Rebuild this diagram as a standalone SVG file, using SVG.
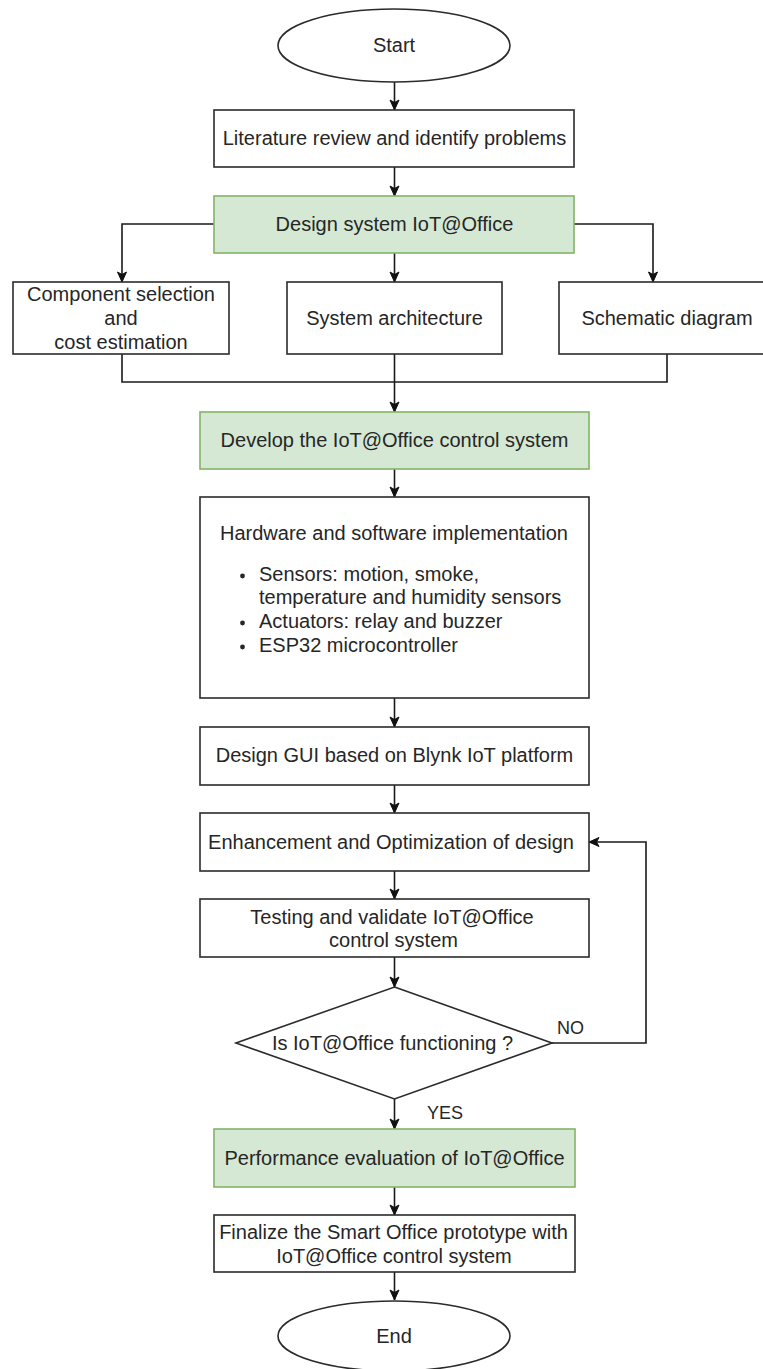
<svg xmlns="http://www.w3.org/2000/svg" width="763" height="1369" viewBox="0 0 763 1369">
  <defs>
    <marker id="arr" markerUnits="userSpaceOnUse" markerWidth="12" markerHeight="12" viewBox="0 0 12 12" refX="11" refY="6" orient="auto">
      <path d="M1,1.5 L11,6 L1,10.5 L3.5,6 Z" fill="#111" stroke="#111" stroke-width="1" stroke-linejoin="miter"/>
    </marker>
  </defs>
  <style>
    .box { fill: #ffffff; stroke: #2b2b2b; stroke-width: 1.6; }
    .green { fill: #d5e8d4; stroke: #82b366; stroke-width: 1.6; }
    .t { font-family: "Liberation Sans", Arial, sans-serif; font-size: 20px; fill: #262626; text-anchor: middle; }
    .tl { font-family: "Liberation Sans", Arial, sans-serif; font-size: 20px; fill: #262626; text-anchor: start; }
    .lab { font-family: "Liberation Sans", Arial, sans-serif; font-size: 18px; fill: #262626; text-anchor: start; }
    .c { fill: none; stroke: #1a1a1a; stroke-width: 1.6; }
  </style>
  <rect width="763" height="1369" fill="#ffffff"/>

  <g id="connectors">
    <path class="c" d="M394.5,82 V110" marker-end="url(#arr)"/>
    <path class="c" d="M394.5,167 V196" marker-end="url(#arr)"/>
    <path class="c" d="M214,224 H122 V282" marker-end="url(#arr)"/>
    <path class="c" d="M394.5,253 V282" marker-end="url(#arr)"/>
    <path class="c" d="M574,224 H653 V282" marker-end="url(#arr)"/>
    <path class="c" d="M122,354 V382 H667 V354"/>
    <path class="c" d="M394.5,354 V412" marker-end="url(#arr)"/>
    <path class="c" d="M394.5,469 V497" marker-end="url(#arr)"/>
    <path class="c" d="M394.5,698 V727" marker-end="url(#arr)"/>
    <path class="c" d="M394.5,785 V813" marker-end="url(#arr)"/>
    <path class="c" d="M394.5,871 V899" marker-end="url(#arr)"/>
    <path class="c" d="M394.5,957 V987" marker-end="url(#arr)"/>
    <path class="c" d="M552,1043 H646 V842 H589" marker-end="url(#arr)"/>
    <path class="c" d="M394.5,1099 V1129" marker-end="url(#arr)"/>
    <path class="c" d="M394.5,1187 V1215" marker-end="url(#arr)"/>
    <path class="c" d="M394.5,1272 V1300" marker-end="url(#arr)"/>
    <text class="lab" x="557" y="1034">NO</text>
    <text class="lab" x="427" y="1119">YES</text>
  </g>

  <g id="start">
    <ellipse class="box" cx="394" cy="45.5" rx="116" ry="36.5"/>
    <text class="t" x="394" y="52">Start</text>
  </g>

  <g id="literature">
    <rect class="box" x="214" y="110" width="360" height="57"/>
    <text class="t" x="394.5" y="145">Literature review and identify problems</text>
  </g>

  <g id="design-system">
    <rect class="green" x="214" y="196" width="360" height="57"/>
    <text class="t" x="394.5" y="231">Design system IoT@Office</text>
  </g>

  <g id="component-selection">
    <rect class="box" x="13" y="282" width="216" height="72"/>
    <text class="t" x="121" y="301">Component selection</text>
    <text class="t" x="121" y="325">and</text>
    <text class="t" x="121" y="349">cost estimation</text>
  </g>

  <g id="system-architecture">
    <rect class="box" x="287" y="282" width="215" height="72"/>
    <text class="t" x="394.5" y="325">System architecture</text>
  </g>

  <g id="schematic-diagram">
    <rect class="box" x="559" y="282" width="216" height="72"/>
    <text class="t" x="667" y="325">Schematic diagram</text>
  </g>

  <g id="develop">
    <rect class="green" x="200" y="412" width="389" height="57"/>
    <text class="t" x="394.5" y="447">Develop the IoT@Office control system</text>
  </g>

  <g id="hardware-software">
    <rect class="box" x="200" y="497" width="389" height="201"/>
    <text class="t" x="394" y="540">Hardware and software implementation</text>
    <circle cx="242.5" cy="576" r="2.4" fill="#262626"/>
    <text class="tl" x="259" y="581">Sensors: motion, smoke,</text>
    <text class="tl" x="259" y="604">temperature and humidity sensors</text>
    <circle cx="242.5" cy="623" r="2.4" fill="#262626"/>
    <text class="tl" x="259" y="628">Actuators: relay and buzzer</text>
    <circle cx="242.5" cy="647" r="2.4" fill="#262626"/>
    <text class="tl" x="259" y="652">ESP32 microcontroller</text>
  </g>

  <g id="design-gui">
    <rect class="box" x="200" y="727" width="389" height="58"/>
    <text class="t" x="394.5" y="762">Design GUI based on Blynk IoT platform</text>
  </g>

  <g id="enhancement">
    <rect class="box" x="200" y="813" width="389" height="58"/>
    <text class="t" x="391" y="849">Enhancement and Optimization of design</text>
  </g>

  <g id="testing">
    <rect class="box" x="200" y="899" width="389" height="58"/>
    <text class="t" x="392" y="924">Testing and validate IoT@Office</text>
    <text class="t" x="393.5" y="947">control system</text>
  </g>

  <g id="decision">
    <polygon class="box" points="394.5,987 552,1043 394.5,1099 236,1043"/>
    <text class="t" x="392.5" y="1050">Is IoT@Office functioning ?</text>
  </g>

  <g id="performance">
    <rect class="green" x="214" y="1129" width="361" height="58"/>
    <text class="t" x="394.5" y="1165">Performance evaluation of IoT@Office</text>
  </g>

  <g id="finalize">
    <rect class="box" x="214" y="1215" width="361" height="57"/>
    <text class="t" x="393.5" y="1239">Finalize the Smart Office prototype with</text>
    <text class="t" x="394" y="1263">IoT@Office control system</text>
  </g>

  <g id="end">
    <ellipse class="box" cx="394" cy="1336" rx="116" ry="35"/>
    <text class="t" x="394" y="1343">End</text>
  </g>
</svg>
